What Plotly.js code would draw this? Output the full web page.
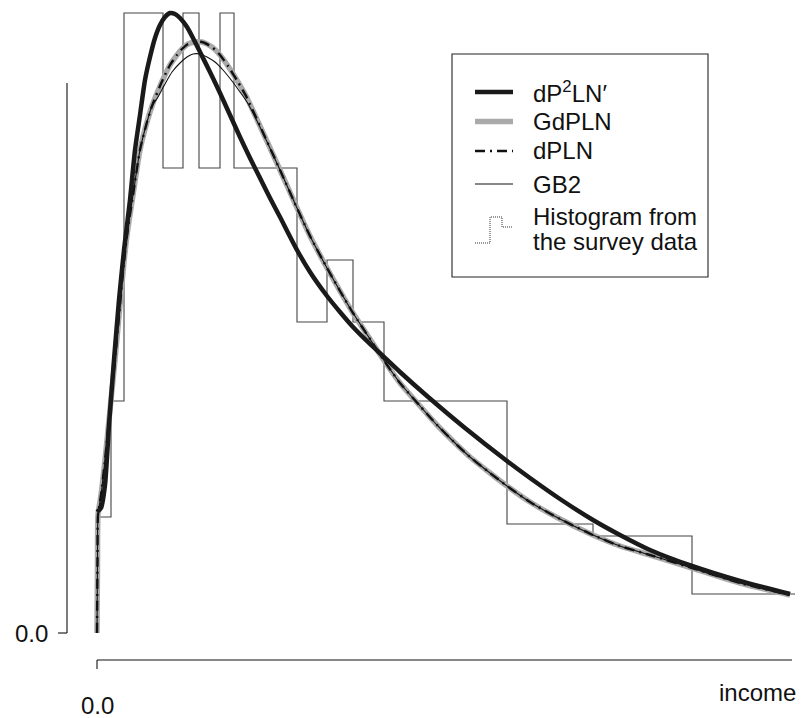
<!DOCTYPE html>
<html><head><meta charset="utf-8">
<script src="https://cdn.plot.ly/plotly-3.0.1.min.js"></script>
<style>html,body{margin:0;padding:0;background:#fff}#chart{width:803px;height:718px}</style>
</head><body><div id="chart"></div>
<script>
// ---- data (income, density) ----
const histBreaks  = [0, 0.14, 0.27, 0.66, 0.86, 1.02, 1.23, 1.37, 2.00, 2.30, 2.56, 2.87, 4.10, 4.96, 5.95, 6.98];
const histDensity = [0.116, 0.232, 0.620, 0.465, 0.620, 0.465, 0.620, 0.465, 0.311, 0.373, 0.311, 0.232, 0.109, 0.097, 0.039];

const incomeP2 = [0, 0.04, 0.08, 0.12, 0.17, 0.22, 0.27, 0.33, 0.38, 0.43, 0.48, 0.53, 0.58, 0.63, 0.68, 0.73, 0.78, 0.83, 0.90, 0.96, 1.03, 1.13, 1.23, 1.33, 1.43, 1.53, 1.63, 1.73, 1.83, 2.00, 2.13, 2.30, 2.43, 2.56, 2.73, 2.87, 3.03, 3.30, 3.68, 4.10, 4.33, 4.63, 4.96, 5.23, 5.53, 5.95, 6.43, 6.93];
const densP2   = [0.121, 0.125, 0.148, 0.208, 0.273, 0.333, 0.383, 0.433, 0.483, 0.518, 0.553, 0.576, 0.595, 0.608, 0.616, 0.620, 0.619, 0.615, 0.606, 0.595, 0.581, 0.561, 0.540, 0.518, 0.496, 0.475, 0.455, 0.435, 0.416, 0.383, 0.361, 0.337, 0.321, 0.306, 0.289, 0.276, 0.261, 0.237, 0.205, 0.172, 0.155, 0.134, 0.113, 0.098, 0.083, 0.067, 0.052, 0.039];

const incomeG = [0, 0.005, 0.01, 0.04, 0.08, 0.13, 0.18, 0.23, 0.27, 0.31, 0.36, 0.43, 0.50, 0.55, 0.63, 0.68, 0.73, 0.80, 0.85, 0.91, 0.98, 1.05, 1.15, 1.23, 1.31, 1.41, 1.50, 1.63, 1.83, 2.00, 2.13, 2.30, 2.43, 2.56, 2.73, 2.86, 3.03, 3.23, 3.40, 3.58, 3.73, 3.93, 4.10, 4.33, 4.63, 4.96, 5.23, 5.53, 5.95, 6.43, 6.93];
const densGdPLN = [0, 0.073, 0.118, 0.138, 0.173, 0.223, 0.273, 0.328, 0.371, 0.405, 0.438, 0.483, 0.511, 0.527, 0.547, 0.558, 0.568, 0.578, 0.584, 0.589, 0.591, 0.591, 0.586, 0.578, 0.567, 0.551, 0.535, 0.507, 0.463, 0.425, 0.397, 0.365, 0.342, 0.320, 0.294, 0.274, 0.250, 0.227, 0.208, 0.190, 0.176, 0.160, 0.147, 0.131, 0.114, 0.098, 0.087, 0.078, 0.065, 0.050, 0.038];
const densDPLN  = [0, 0.073, 0.118, 0.138, 0.173, 0.223, 0.273, 0.328, 0.371, 0.405, 0.438, 0.483, 0.511, 0.527, 0.547, 0.558, 0.568, 0.578, 0.584, 0.589, 0.591, 0.591, 0.586, 0.578, 0.567, 0.551, 0.535, 0.507, 0.463, 0.425, 0.397, 0.365, 0.342, 0.320, 0.294, 0.274, 0.250, 0.227, 0.208, 0.190, 0.176, 0.160, 0.147, 0.131, 0.114, 0.098, 0.087, 0.078, 0.065, 0.050, 0.038];

const incomeB = [0, 0.005, 0.01, 0.04, 0.08, 0.13, 0.18, 0.23, 0.27, 0.31, 0.36, 0.43, 0.50, 0.55, 0.61, 0.68, 0.75, 0.83, 0.90, 0.96, 1.03, 1.10, 1.18, 1.26, 1.35, 1.43, 1.50, 1.63, 1.83, 2.00, 2.13, 2.30, 2.43, 2.56, 2.73, 2.86, 3.03, 3.23, 3.40, 3.58, 3.73, 3.93, 4.10, 4.33, 4.63, 4.96, 5.23, 5.53, 5.95, 6.43, 6.93];
const densGB2 = [0, 0.073, 0.118, 0.138, 0.173, 0.223, 0.273, 0.328, 0.371, 0.405, 0.438, 0.483, 0.511, 0.527, 0.536, 0.549, 0.561, 0.570, 0.576, 0.579, 0.579, 0.576, 0.571, 0.563, 0.552, 0.541, 0.531, 0.506, 0.463, 0.425, 0.397, 0.365, 0.342, 0.320, 0.294, 0.274, 0.250, 0.227, 0.208, 0.190, 0.176, 0.160, 0.147, 0.131, 0.114, 0.098, 0.087, 0.078, 0.065, 0.050, 0.038];

const seriesNames = ['dP<sup>2</sup>LN\u2032', 'GdPLN', 'dPLN', 'GB2'];
const histLabel = ['Histogram from', 'the survey data'];
const xTickVals = [0], xTickLabels = ['0.0'];
const yTickVals = [0], yTickLabels = ['0.0'];
const xTitle = 'income';

// ---- build ----
const W = 803, H = 718;
const X = p => p / W, Y = p => 1 - p / H;
const FONT = {family: 'Liberation Sans, Arial, Helvetica, sans-serif', size: 24, color: '#111'};
const DASHDOT = '10px,5px,2px,5px';

const hx = [0].concat(histBreaks);
const hy = [0].concat(histDensity).concat([histDensity[histDensity.length - 1]]);

const traces = [
  {x: hx, y: hy, mode: 'lines', line: {shape: 'hv', color: '#444', width: 1.1}, hoverinfo: 'skip'},
  {x: incomeG, y: densGdPLN, mode: 'lines', line: {color: '#aaaaaa', width: 5.5, shape: 'spline', smoothing: 0.6}},
  {x: incomeB, y: densGB2, mode: 'lines', line: {color: '#111', width: 1.1, shape: 'spline', smoothing: 0.6}},
  {x: incomeG, y: densDPLN, mode: 'lines', line: {color: '#111', width: 2.4, dash: DASHDOT, shape: 'spline', smoothing: 0.6}},
  {x: incomeP2, y: densP2, mode: 'lines', line: {color: '#1a1a1a', width: 4.5, shape: 'spline', smoothing: 0.6}}
];

const shapes = [];
const annotations = [];
// y axis
shapes.push({type: 'line', xref: 'paper', yref: 'y', x0: X(67), x1: X(67), y0: yTickVals[0], y1: 0.55, line: {color: '#111', width: 1.1}});
yTickVals.forEach((v, i) => {
  shapes.push({type: 'line', xref: 'paper', yref: 'y', x0: X(58), x1: X(67), y0: v, y1: v, line: {color: '#111', width: 1.1}});
  annotations.push({xref: 'paper', yref: 'y', x: X(50), y: v, text: yTickLabels[i], showarrow: false, xanchor: 'right', yanchor: 'middle', font: FONT});
});
// x axis
shapes.push({type: 'line', xref: 'x', yref: 'paper', x0: xTickVals[0], x1: 6.95, y0: Y(660), y1: Y(660), line: {color: '#111', width: 1.1}});
xTickVals.forEach((v, i) => {
  shapes.push({type: 'line', xref: 'x', yref: 'paper', x0: v, x1: v, y0: Y(660), y1: Y(669), line: {color: '#111', width: 1.1}});
  annotations.push({xref: 'x', yref: 'paper', x: v, y: Y(705), text: xTickLabels[i], showarrow: false, xanchor: 'center', yanchor: 'middle', font: FONT});
});
annotations.push({xref: 'paper', yref: 'paper', x: X(798), y: Y(692), text: xTitle, showarrow: false, xanchor: 'right', yanchor: 'middle', font: FONT});

// legend
shapes.push({type: 'rect', xref: 'paper', yref: 'paper', x0: X(452), x1: X(708), y0: Y(54), y1: Y(277), line: {color: '#222', width: 1.1}, fillcolor: 'rgba(0,0,0,0)'});
const rowY = [92, 121.5, 151, 184];
const rowStyle = [
  {color: '#1a1a1a', width: 4.5},
  {color: '#aaaaaa', width: 5.5},
  {color: '#111', width: 2.4, dash: DASHDOT},
  {color: '#111', width: 1.1}
];
seriesNames.forEach((n, i) => {
  shapes.push({type: 'line', xref: 'paper', yref: 'paper', x0: X(475), x1: X(513), y0: Y(rowY[i]), y1: Y(rowY[i]), line: rowStyle[i]});
  annotations.push({xref: 'paper', yref: 'paper', x: X(531), y: Y(rowY[i]), text: n, showarrow: false, xanchor: 'left', yanchor: 'middle', font: FONT});
});
const p = `M ${X(475)} ${Y(243)} L ${X(490)} ${Y(243)} L ${X(490)} ${Y(217)} L ${X(502)} ${Y(217)} L ${X(502)} ${Y(227)} L ${X(512)} ${Y(227)}`;
shapes.push({type: 'path', xref: 'paper', yref: 'paper', path: p, line: {color: '#333', width: 1, dash: '1px,1px'}});
annotations.push({xref: 'paper', yref: 'paper', x: X(531), y: Y(216), text: histLabel[0], showarrow: false, xanchor: 'left', yanchor: 'middle', font: FONT});
annotations.push({xref: 'paper', yref: 'paper', x: X(531), y: Y(241), text: histLabel[1], showarrow: false, xanchor: 'left', yanchor: 'middle', font: FONT});

const layout = {
  width: W, height: H,
  margin: {l: 0, r: 0, t: 0, b: 0, pad: 0},
  paper_bgcolor: '#fff', plot_bgcolor: '#fff',
  showlegend: false,
  xaxis: {range: [-0.97, 7.06], showgrid: false, zeroline: false, showticklabels: false, showline: false, ticks: '', fixedrange: true},
  yaxis: {range: [-0.085, 0.633], showgrid: false, zeroline: false, showticklabels: false, showline: false, ticks: '', fixedrange: true},
  shapes: shapes,
  annotations: annotations,
  font: FONT
};
Plotly.newPlot('chart', traces, layout, {staticPlot: true, displayModeBar: false});
</script>
</body></html>
